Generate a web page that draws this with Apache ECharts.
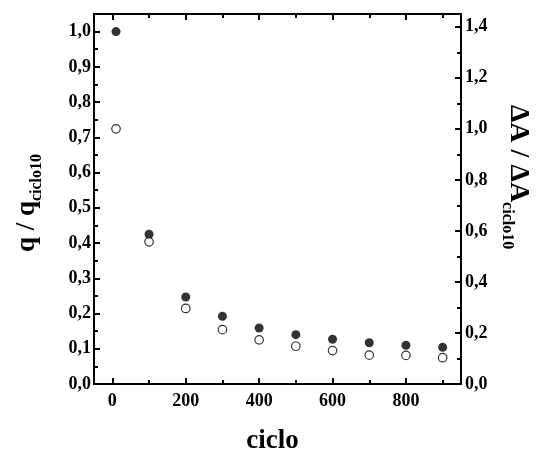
<!DOCTYPE html>
<html>
<head>
<meta charset="utf-8">
<script src="https://cdn.jsdelivr.net/npm/echarts@6/dist/echarts.min.js"></script>
<style>
  html, body { margin: 0; padding: 0; background: #fff; }
  #chart { width: 536px; height: 454px; }
</style>
</head>
<body>
<div id="chart"></div>
<script>
// Cycle number and the two normalised quantities
const cycles = [10, 100, 200, 300, 400, 500, 600, 700, 800, 900];
const qRatio = [1.0, 0.425, 0.247, 0.192, 0.159, 0.140, 0.127, 0.117, 0.110, 0.104];
const absRatio = [1.0, 0.557, 0.296, 0.213, 0.173, 0.148, 0.131, 0.113, 0.112, 0.103];

// Tick positions
const xMajor = [0, 200, 400, 600, 800];
const xMinor = [100, 300, 500, 700, 900];
const yLeftMajor = [0, 0.1, 0.2, 0.3, 0.4, 0.5, 0.6, 0.7, 0.8, 0.9, 1.0];
const yLeftMinor = [0.05, 0.15, 0.25, 0.35, 0.45, 0.55, 0.65, 0.75, 0.85, 0.95, 1.05];
const yRightMajor = [0, 0.2, 0.4, 0.6, 0.8, 1.0, 1.2, 1.4];
const yRightMinor = [0.1, 0.3, 0.5, 0.7, 0.9, 1.1, 1.3];

const FONT = 'Liberation Serif';
const comma = v => Number(v).toFixed(1).replace('.', ',');

const line = { show: true, onZero: false, lineStyle: { color: '#000', width: 2 } };
const labelStyle = { color: '#000', fontFamily: FONT, fontWeight: 'bold', fontSize: 18 };

function tickAxis(extra, values, len, labels) {
  return Object.assign({
    type: 'value',
    axisLine: line,
    axisTick: { show: true, inside: true, length: len, customValues: values,
                lineStyle: { color: '#000', width: 2 } },
    axisLabel: labels ? labels : { show: false },
    splitLine: { show: false },
    minorTick: { show: false }
  }, extra);
}

const grid = { left: 94, right: 75, top: 14, bottom: 70, outerBoundsMode: 'none', containLabel: false };

const option = {
  animation: false,
  backgroundColor: '#fff',
  grid: [Object.assign({}, grid), Object.assign({}, grid)],
  xAxis: [
    tickAxis({ gridIndex: 0, position: 'bottom', min: -50, max: 950,
      name: 'ciclo', nameLocation: 'middle', nameGap: 44,
      nameTextStyle: { color: '#000', fontFamily: FONT, fontWeight: 'bold', fontSize: 27,
        padding: [0, 10, 0, 0] } },
      xMajor, 6,
      Object.assign({ show: true, customValues: xMajor, margin: 8 }, labelStyle)),
    tickAxis({ gridIndex: 0, position: 'top', min: -50, max: 950 }, xMajor, 6),
    tickAxis({ gridIndex: 1, position: 'bottom', min: -50, max: 950 }, xMinor, 4),
    tickAxis({ gridIndex: 1, position: 'top', min: -50, max: 950 }, xMinor, 4)
  ],
  yAxis: [
    tickAxis({ gridIndex: 0, position: 'left', min: 0, max: 1.05,
      name: '{m|q / q}{s|ciclo10}', nameLocation: 'middle', nameGap: 52, nameRotate: 90,
      nameTextStyle: { color: '#000', fontFamily: FONT, fontWeight: 'bold', padding: [0, 8, 0, 0],
        rich: {
          m: { fontFamily: FONT, fontWeight: 'bold', fontSize: 27, color: '#000', lineHeight: 30 },
          s: { fontFamily: FONT, fontWeight: 'bold', fontSize: 16, color: '#000', lineHeight: 18, padding: [20, 0, 0, 0] }
        } } },
      yLeftMajor, 6,
      Object.assign({ show: true, customValues: yLeftMajor, margin: 3, formatter: comma }, labelStyle)),
    tickAxis({ gridIndex: 0, position: 'right', min: 0, max: 1.45,
      name: '{m|ΔA / ΔA}{s|ciclo10}', nameLocation: 'middle', nameGap: 42, nameRotate: -90,
      nameTextStyle: { color: '#000', fontFamily: FONT, fontWeight: 'bold', padding: [0, 44, 0, 0],
        rich: {
          m: { fontFamily: FONT, fontWeight: 'bold', fontSize: 28, color: '#000', lineHeight: 30 },
          s: { fontFamily: FONT, fontWeight: 'bold', fontSize: 16, color: '#000', lineHeight: 18, padding: [22, 0, 0, 0] }
        } } },
      yRightMajor, 6,
      Object.assign({ show: true, customValues: yRightMajor, margin: 4, formatter: comma }, labelStyle)),
    tickAxis({ gridIndex: 1, position: 'left', min: 0, max: 1.05 }, yLeftMinor, 4),
    tickAxis({ gridIndex: 1, position: 'right', min: 0, max: 1.45 }, yRightMinor, 4)
  ],
  series: [
    {
      name: 'q',
      type: 'scatter',
      xAxisIndex: 0, yAxisIndex: 0,
      symbol: 'circle', symbolSize: 9,
      itemStyle: { color: '#000' },
      data: cycles.map((c, i) => [c, qRatio[i]])
    },
    {
      name: 'ΔA',
      type: 'scatter',
      xAxisIndex: 0, yAxisIndex: 1,
      symbol: 'circle', symbolSize: 8.5,
      itemStyle: { color: '#fff', borderColor: '#000', borderWidth: 1.2 },
      data: cycles.map((c, i) => [c, absRatio[i]])
    }
  ]
};

const chart = echarts.init(document.getElementById('chart'), null, { renderer: 'canvas' });
chart.setOption(option);
</script>
</body>
</html>
